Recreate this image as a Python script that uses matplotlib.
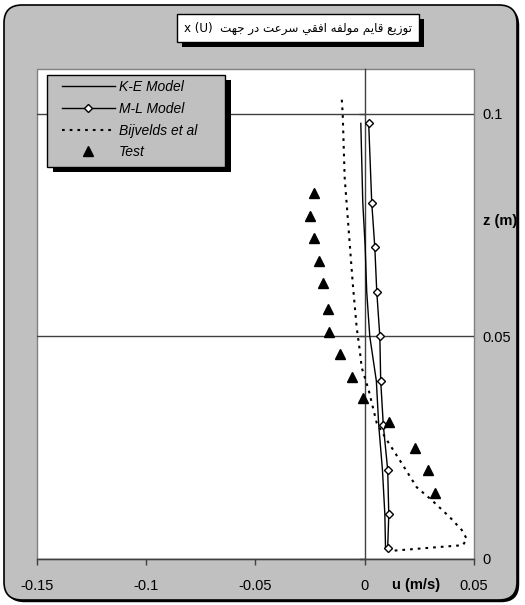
import matplotlib
matplotlib.use('Agg')
import matplotlib.pyplot as plt
from matplotlib.patches import Rectangle, FancyBboxPatch
from matplotlib.transforms import IdentityTransform
import matplotlib.patheffects as pe

# ---------------- data ----------------
z_model = [0.0978, 0.080, 0.070, 0.060, 0.050, 0.040, 0.030, 0.020, 0.010, 0.0025]
u_ke = [-0.0018, -0.0009, 0.0002, 0.0009, 0.0023, 0.0053, 0.0064, 0.0081, 0.0092, 0.0095]
u_ml = [0.0018, 0.0032, 0.0046, 0.0055, 0.0069, 0.0073, 0.0085, 0.0105, 0.0110, 0.0105]

z_bij = [0.1031, 0.1000, 0.0857, 0.0767, 0.0619, 0.0520, 0.0469, 0.0430, 0.0379, 0.0305,
         0.0267, 0.0222, 0.0161, 0.0132, 0.0094, 0.0065, 0.0045, 0.0031, 0.0027, 0.0018]
u_bij = [-0.0105, -0.0101, -0.0092, -0.0078, -0.0055, -0.0037, -0.0023, -0.0014, 0.0018, 0.0055,
         0.0101, 0.0160, 0.0238, 0.0307, 0.0389, 0.0444, 0.0467, 0.0449, 0.0343, 0.0114]

z_test = [0.0821, 0.0769, 0.0720, 0.0670, 0.0619, 0.0561, 0.0509, 0.0460, 0.0408, 0.0361,
          0.0307, 0.0249, 0.0200, 0.0148]
u_test = [-0.0233, -0.0252, -0.0233, -0.0211, -0.0192, -0.0169, -0.0165, -0.0114, -0.0059, -0.0009,
          0.0110, 0.0229, 0.0288, 0.0320]

x_ticks = [-0.15, -0.1, -0.05, 0, 0.05]
x_ticklabels = ['-0.15', '-0.1', '-0.05', '0', '0.05']
y_ticks = [0, 0.05, 0.1]
y_ticklabels = ['0', '0.05', '0.1']
series_labels = ['K-E Model', 'M-L Model', 'Bijvelds et al', 'Test']
title_fa = 'توزیع قایم مولفه افقي سرعت در جهت'
title_latin = 'x (U)'
xlabel = 'u (m/s)'
ylabel = 'z (m)'

# ---------------- simple Arabic shaping for display ----------------
FORMS = {
    '\u0627': ('\uFE8D', '\uFE8E', None, None),
    '\u062A': ('\uFE95', '\uFE96', '\uFE97', '\uFE98'),
    '\u062C': ('\uFE9D', '\uFE9E', '\uFE9F', '\uFEA0'),
    '\u062F': ('\uFEA9', '\uFEAA', None, None),
    '\u0631': ('\uFEAD', '\uFEAE', None, None),
    '\u0632': ('\uFEAF', '\uFEB0', None, None),
    '\u0633': ('\uFEB1', '\uFEB2', '\uFEB3', '\uFEB4'),
    '\u0639': ('\uFEC9', '\uFECA', '\uFECB', '\uFECC'),
    '\u0641': ('\uFED1', '\uFED2', '\uFED3', '\uFED4'),
    '\u0642': ('\uFED5', '\uFED6', '\uFED7', '\uFED8'),
    '\u0644': ('\uFEDD', '\uFEDE', '\uFEDF', '\uFEE0'),
    '\u0645': ('\uFEE1', '\uFEE2', '\uFEE3', '\uFEE4'),
    '\u0647': ('\uFEE9', '\uFEEA', '\uFEEB', '\uFEEC'),
    '\u0648': ('\uFEED', '\uFEEE', None, None),
    '\u064A': ('\uFEF1', '\uFEF2', '\uFEF3', '\uFEF4'),
    '\u06CC': ('\uFBFC', '\uFBFD', '\uFBFE', '\uFBFF'),
}


def shape(text):
    out = []
    n = len(text)
    for i, ch in enumerate(text):
        if ch not in FORMS:
            out.append(ch)
            continue
        prev = text[i - 1] if i > 0 else ''
        nxt = text[i + 1] if i < n - 1 else ''
        jp = prev in FORMS and FORMS[prev][2] is not None
        jn = nxt in FORMS and FORMS[ch][2] is not None
        iso, fin, ini, med = FORMS[ch]
        if jp and jn:
            out.append(med)
        elif jp:
            out.append(fin)
        elif jn:
            out.append(ini)
        else:
            out.append(iso)
    return ''.join(out)[::-1]


title_visual = title_latin + '  ' + shape(title_fa)

# ---------------- figure ----------------
W, H = 525, 605
fig = plt.figure(figsize=(W / 100, H / 100), dpi=100)
fig.patch.set_facecolor('white')

panel = FancyBboxPatch((4, 5), 513, 595, boxstyle='round,pad=0,rounding_size=18',
                       transform=IdentityTransform(), fc='#C0C0C0', ec='black', lw=1.2, zorder=-10)
panel.set_path_effects([pe.SimplePatchShadow(offset=(1.6, -1.6), shadow_rgbFace='black', alpha=1),
                        pe.Normal()])
fig.patches.append(panel)

ax = fig.add_axes([37 / W, 46 / H, 437 / W, 490 / H])
ax.set_xlim(-0.15, 0.05)
ax.set_ylim(0, 0.11)
ax.patch.set_facecolor('white')
ax.patch.set_edgecolor('#808080')
ax.patch.set_linewidth(1.0)

ax.spines['top'].set_visible(False)
ax.spines['right'].set_visible(False)
ax.spines['left'].set_position(('data', 0))
ax.spines['left'].set_color('#404040')
ax.spines['left'].set_linewidth(1.0)
ax.spines['bottom'].set_color('#404040')
ax.spines['bottom'].set_linewidth(1.0)

tickfont = dict(family='Liberation Sans', size=10.5)
ax.set_xticks(x_ticks)
ax.set_xticklabels(x_ticklabels, fontdict=tickfont)
ax.set_yticks(y_ticks)
ax.set_yticklabels(y_ticklabels, fontdict=tickfont)
ax.tick_params(axis='x', direction='out', length=4.3, width=1, color='#404040', pad=10)
ax.tick_params(axis='y', which='both', left=True, right=False, labelleft=False, labelright=True,
               direction='out', length=4.3, width=1, color='#404040', pad=2)
for lab in ax.get_yticklabels():
    lab.set_horizontalalignment('left')
ax.yaxis.grid(True, color='#404040', lw=1.0)
ax.set_axisbelow(True)

l_ke, = ax.plot(u_ke, z_model, '-', color='black', lw=1.0, label=series_labels[0], zorder=3)
l_ml, = ax.plot(u_ml, z_model, '-', color='black', lw=1.0, marker='D', ms=4.3, mfc='white',
                mec='black', mew=1.0, label=series_labels[1], zorder=4)
l_bj, = ax.plot(u_bij, z_bij, color='black', lw=1.5, ls=(0, (1.3, 2.4)), label=series_labels[2], zorder=3)
l_ts, = ax.plot(u_test, z_test, ls='none', marker='^', ms=6.5, color='black', label=series_labels[3], zorder=5)

# axis labels
fig.text(500 / W, 1 - 221 / H, ylabel, ha='center', va='center', family='Liberation Sans',
         weight='bold', size=10.5)
fig.text(416 / W, 1 - 585 / H, xlabel, ha='center', va='center', family='Liberation Sans',
         weight='bold', size=10.5)

# legend box with shadow
lbox = Rectangle((47, H - 167), 178, 92, transform=IdentityTransform(), fc='#C0C0C0', ec='black',
                 lw=1.0, zorder=1)
lbox.set_path_effects([pe.SimplePatchShadow(offset=(4, -3.6), shadow_rgbFace='black', alpha=1),
                       pe.Normal()])
fig.patches.append(lbox)
fig.legend([l_ke, l_ml, l_bj, l_ts], series_labels, loc='upper left',
           bbox_to_anchor=(62 / W, 1 - 80 / H), borderaxespad=0, borderpad=0,
           handlelength=3.8, handletextpad=0.3, labelspacing=0.56, numpoints=1, frameon=False,
           prop=dict(family='Liberation Sans', style='italic', size=10))

# title box
t = fig.text(298 / W, 1 - 28 / H, title_visual, ha='center', va='center', size=8.6,
             family=['DejaVu Sans'],
             bbox=dict(boxstyle='square,pad=0.6', fc='white', ec='black', lw=1.0))
t.get_bbox_patch().set_path_effects([pe.SimplePatchShadow(offset=(3.6, -3.6), shadow_rgbFace='black',
                                                           alpha=1), pe.Normal()])

fig.savefig('out.png', dpi=100)
